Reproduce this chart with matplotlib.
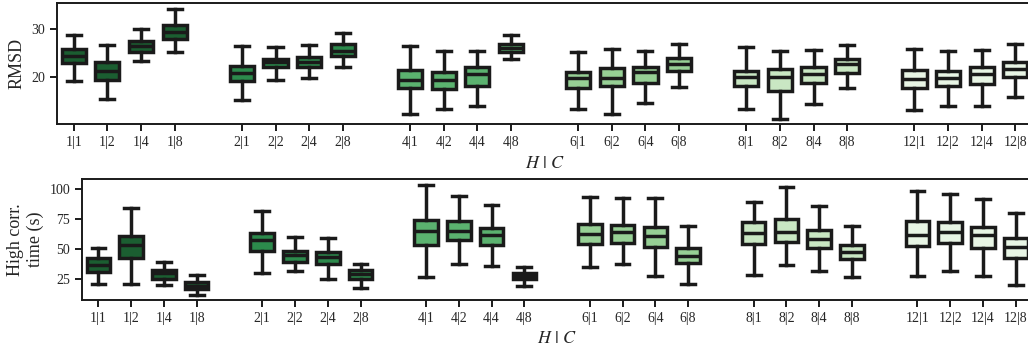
import matplotlib
matplotlib.use('Agg')
import matplotlib.pyplot as plt

plt.rcParams['font.family'] = 'serif'
plt.rcParams['font.serif'] = ['Liberation Serif', 'DejaVu Serif']
plt.rcParams['mathtext.fontset'] = 'stix'

# Configurations H | C
h_values = [1, 2, 4, 6, 8, 12]
c_values = [1, 2, 4, 8]
group_colors = ['#1b5e31', '#2c8a4c', '#5bb26f', '#97d095', '#c9e7c3', '#e8f5e5']

# RMSD: lower whisker, Q1, median, Q3, upper whisker (per H, per C)
rmsd_lo  = [19.3, 15.5, 23.4, 25.3,  15.4, 19.5, 19.9, 22.2,  12.4, 13.5, 14.0, 23.7,
            13.5, 12.4, 14.6, 17.9,  13.5, 11.4, 14.4, 17.8,  13.3, 14.0, 14.1, 15.9]
rmsd_q1  = [23.0, 19.5, 25.2, 27.9,  19.3, 22.1, 22.2, 24.5,  17.8, 17.6, 18.3, 25.3,
            17.8, 18.1, 18.8, 21.4,  18.1, 17.2, 18.8, 20.9,  17.8, 18.3, 18.6, 20.1]
rmsd_med = [24.5, 21.4, 26.4, 29.3,  20.8, 23.1, 23.25, 25.5, 19.5, 19.45, 20.7, 26.1,
            19.9, 19.9, 21.0, 22.8,  20.1, 20.1, 20.6, 22.8,  19.7, 19.8, 20.6, 21.7]
rmsd_q3  = [25.9, 23.25, 27.6, 30.8, 22.3, 23.9, 24.3, 26.9,  21.6, 21.2, 22.1, 26.9,
            21.2, 21.9, 22.1, 24.1,  21.4, 21.7, 22.2, 23.8,  21.6, 21.4, 22.1, 23.1]
rmsd_hi  = [28.8, 26.7, 30.0, 34.2,  26.4, 26.2, 26.8, 29.1,  26.4, 25.5, 25.4, 28.8,
            25.2, 25.9, 25.4, 26.9,  26.2, 25.5, 25.7, 26.7,  25.9, 25.4, 25.7, 27.0]

# High correlation time (s)
hct_lo  = [20.9, 20.9, 20.1, 12.1,  29.7, 31.3, 25.0, 17.3,  26.9, 37.9, 36.0, 19.5,
           34.6, 37.9, 27.7, 20.9,  28.3, 36.5, 31.8, 26.4,  27.7, 31.3, 27.2, 20.1]
hct_q1  = [30.5, 42.9, 25.0, 16.8,  48.3, 39.3, 37.9, 25.0,  53.3, 57.4, 53.3, 25.0,
           53.9, 55.3, 51.6, 38.2,  53.9, 55.8, 51.1, 41.5,  52.4, 55.3, 51.1, 42.9]
hct_med = [36.3, 53.0, 29.7, 19.5,  57.2, 45.4, 43.7, 29.1,  64.8, 64.8, 61.5, 27.7,
           62.7, 64.0, 60.7, 44.2,  62.9, 64.0, 58.0, 47.8,  61.5, 64.0, 61.5, 52.0]
hct_q3  = [42.9, 60.7, 32.4, 22.3,  63.5, 48.3, 47.5, 32.7,  74.5, 73.1, 67.6, 30.0,
           71.2, 70.3, 68.4, 51.1,  72.3, 75.0, 65.4, 53.0,  73.1, 72.3, 68.1, 58.8]
hct_hi  = [51.1, 84.1, 38.8, 28.3,  81.3, 59.9, 58.8, 37.9,  103.3, 94.2, 86.8, 35.2,
           92.9, 92.3, 92.3, 69.5,  89.0, 101.4, 85.4, 68.9,  98.6, 95.6, 91.5, 80.0]

labels = [f"{h}|{c}" for h in h_values for c in c_values]
positions = [g * 5 + i for g in range(len(h_values)) for i in range(len(c_values))]
colors = [group_colors[g] for g in range(len(h_values)) for _ in c_values]

text_color = '#262626'
line_color = '#1a1a1a'
lw = 2.5


def draw_boxes(ax, lo, q1, med, q3, hi, ylabel):
    stats = []
    for i in range(len(labels)):
        stats.append(dict(whislo=lo[i], q1=q1[i], med=med[i], q3=q3[i], whishi=hi[i],
                          fliers=[], label=labels[i]))
    bp = ax.bxp(stats, positions=positions, widths=0.72, patch_artist=True,
                showfliers=False, capwidths=0.42,
                boxprops=dict(linewidth=lw, edgecolor=line_color),
                medianprops=dict(linewidth=lw, color=line_color),
                whiskerprops=dict(linewidth=lw, color=line_color),
                capprops=dict(linewidth=lw, color=line_color))
    for patch, col in zip(bp['boxes'], colors):
        patch.set_facecolor(col)
    ax.set_xlim(-0.5, positions[-1] + 0.5)
    ax.set_xticks(positions)
    ax.set_xticklabels(labels)
    ax.set_xlabel(r"$H\ |\ C$", fontsize=13, color=text_color)
    ax.set_ylabel(ylabel, fontsize=13, color=text_color)
    ax.tick_params(axis='both', direction='out', length=5, width=1.4, colors=line_color,
                   labelcolor=text_color, labelsize=10)
    for s in ax.spines.values():
        s.set_linewidth(1.4)
        s.set_color(line_color)


fig = plt.figure(figsize=(10.28, 3.49), dpi=100)
ax1 = fig.add_axes([0.0554, 0.6438, 0.9486, 0.3467])
ax2 = fig.add_axes([0.0798, 0.1404, 0.9242, 0.3453])

draw_boxes(ax1, rmsd_lo, rmsd_q1, rmsd_med, rmsd_q3, rmsd_hi, 'RMSD')
ax1.set_yticks([20, 30])

draw_boxes(ax2, hct_lo, hct_q1, hct_med, hct_q3, hct_hi, 'High corr.\ntime (s)')
ax2.set_yticks([25, 50, 75, 100])

fig.savefig('out.png', dpi=100)
